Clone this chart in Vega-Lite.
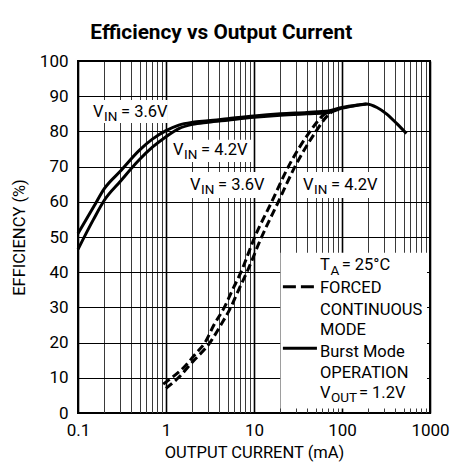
{
  "$schema": "https://vega.github.io/schema/vega-lite/v6.json",
  "width": 352,
  "height": 352,
  "autosize": "none",
  "padding": {"left": 78, "top": 61, "right": 21, "bottom": 52},
  "background": "white",
  "config": {
    "font": "Roboto",
    "view": {"stroke": "black", "strokeWidth": 2},
    "text": {"font": "Roboto", "color": "black"},
    "axis": {"labelOverlap": false, "labelFontSize": 17, "labelColor": "black", "labelSeparation": 0},
    "axisY": {"labelOverlap": false},
    "axisQuantitative": {"labelOverlap": false}
  },
  "title": {
    "text": "Efficiency vs Output Current",
    "fontSize": 20.8,
    "fontWeight": "bold",
    "font": "Roboto",
    "anchor": "middle",
    "frame": "bounds",
    "offset": 8,
    "dx": -9,
    "color": "black"
  },
  "datasets": {
    "burst": [
      {"vin": "3.6V", "x": 0.1, "y": 51},
      {"vin": "3.6V", "x": 0.15, "y": 58.5},
      {"vin": "3.6V", "x": 0.2, "y": 63.8},
      {"vin": "3.6V", "x": 0.3, "y": 68.6},
      {"vin": "3.6V", "x": 0.5, "y": 74.7},
      {"vin": "3.6V", "x": 0.7, "y": 77.8},
      {"vin": "3.6V", "x": 1.0, "y": 80.2},
      {"vin": "3.6V", "x": 1.4, "y": 81.8},
      {"vin": "3.6V", "x": 2, "y": 82.6},
      {"vin": "3.6V", "x": 3, "y": 83},
      {"vin": "3.6V", "x": 5, "y": 83.6},
      {"vin": "3.6V", "x": 10, "y": 84.4},
      {"vin": "3.6V", "x": 20, "y": 85},
      {"vin": "3.6V", "x": 40, "y": 85.4},
      {"vin": "3.6V", "x": 70, "y": 85.8},
      {"vin": "3.6V", "x": 100, "y": 86.8},
      {"vin": "3.6V", "x": 150, "y": 87.5},
      {"vin": "3.6V", "x": 190, "y": 87.8},
      {"vin": "3.6V", "x": 250, "y": 86.8},
      {"vin": "3.6V", "x": 320, "y": 85},
      {"vin": "3.6V", "x": 420, "y": 82.2},
      {"vin": "3.6V", "x": 540, "y": 79.4},
      {"vin": "4.2V", "x": 0.1, "y": 46.5},
      {"vin": "4.2V", "x": 0.15, "y": 55},
      {"vin": "4.2V", "x": 0.2, "y": 60.5},
      {"vin": "4.2V", "x": 0.3, "y": 65.7},
      {"vin": "4.2V", "x": 0.5, "y": 72},
      {"vin": "4.2V", "x": 0.7, "y": 75.5},
      {"vin": "4.2V", "x": 1.0, "y": 78.5},
      {"vin": "4.2V", "x": 1.4, "y": 80.8},
      {"vin": "4.2V", "x": 2, "y": 82},
      {"vin": "4.2V", "x": 3, "y": 82.6},
      {"vin": "4.2V", "x": 5, "y": 83.2},
      {"vin": "4.2V", "x": 10, "y": 84},
      {"vin": "4.2V", "x": 20, "y": 84.6},
      {"vin": "4.2V", "x": 40, "y": 85},
      {"vin": "4.2V", "x": 70, "y": 85.3},
      {"vin": "4.2V", "x": 100, "y": 86.6},
      {"vin": "4.2V", "x": 150, "y": 87.4},
      {"vin": "4.2V", "x": 190, "y": 87.8}
    ],
    "forced": [
      {"vin": "3.6V", "x": 0.93, "y": 8.2},
      {"vin": "3.6V", "x": 1.16, "y": 10},
      {"vin": "3.6V", "x": 1.6, "y": 13},
      {"vin": "3.6V", "x": 2.2, "y": 17},
      {"vin": "3.6V", "x": 2.77, "y": 20},
      {"vin": "3.6V", "x": 3.5, "y": 25},
      {"vin": "3.6V", "x": 4.6, "y": 30},
      {"vin": "3.6V", "x": 5.7, "y": 35},
      {"vin": "3.6V", "x": 7.1, "y": 40},
      {"vin": "3.6V", "x": 10.2, "y": 50},
      {"vin": "3.6V", "x": 15.9, "y": 60},
      {"vin": "3.6V", "x": 24.6, "y": 70},
      {"vin": "3.6V", "x": 43.4, "y": 80},
      {"vin": "3.6V", "x": 58.7, "y": 84.2},
      {"vin": "3.6V", "x": 68, "y": 85.6},
      {"vin": "4.2V", "x": 1.0, "y": 7},
      {"vin": "4.2V", "x": 1.38, "y": 10},
      {"vin": "4.2V", "x": 2.0, "y": 14.5},
      {"vin": "4.2V", "x": 3.16, "y": 20},
      {"vin": "4.2V", "x": 4.2, "y": 25},
      {"vin": "4.2V", "x": 5.44, "y": 30},
      {"vin": "4.2V", "x": 6.7, "y": 35},
      {"vin": "4.2V", "x": 8.3, "y": 40},
      {"vin": "4.2V", "x": 12.2, "y": 50},
      {"vin": "4.2V", "x": 18.9, "y": 60},
      {"vin": "4.2V", "x": 29.2, "y": 70},
      {"vin": "4.2V", "x": 50.6, "y": 80},
      {"vin": "4.2V", "x": 66.9, "y": 84.2},
      {"vin": "4.2V", "x": 76, "y": 85.4}
    ],
    "boxes": [
      {"x": 0.13, "x2": 1.05, "y": 82.4, "y2": 88.9},
      {"x": 1.05, "x2": 9.5, "y": 71.3, "y2": 77.6},
      {"x": 1.64, "x2": 15.2, "y": 61.1, "y2": 68.5},
      {"x": 31.6, "x2": 283, "y": 61.1, "y2": 68.5},
      {"x": 20, "x2": 925, "y": 1.3, "y2": 45.5}
    ],
    "samples": [
      {"mode": "forced", "x": 21.3, "x2": 51.9, "y": 35.9},
      {"mode": "burst", "x": 21.3, "x2": 51.9, "y": 18.4}
    ],
    "texts": [
      {"role": "main", "x": 0.148, "y": 84.1, "t": "V"},
      {"role": "sub", "x": 0.1974, "y": 84.1, "t": "IN"},
      {"role": "main", "x": 0.308, "y": 84.1, "t": "= 3.6V"},
      {"role": "main", "x": 1.2, "y": 73.3, "t": "V"},
      {"role": "sub", "x": 1.6, "y": 73.3, "t": "IN"},
      {"role": "main", "x": 2.5, "y": 73.3, "t": "= 4.2V"},
      {"role": "main", "x": 1.87, "y": 63.4, "t": "V"},
      {"role": "sub", "x": 2.5, "y": 63.4, "t": "IN"},
      {"role": "main", "x": 3.9, "y": 63.4, "t": "= 3.6V"},
      {"role": "main", "x": 36.0, "y": 63.4, "t": "V"},
      {"role": "sub", "x": 48.1, "y": 63.4, "t": "IN"},
      {"role": "main", "x": 75.0, "y": 63.4, "t": "= 4.2V"},
      {"role": "main", "x": 56.2, "y": 40.6, "t": "T"},
      {"role": "sub", "x": 74.0, "y": 40.6, "t": "A"},
      {"role": "main", "x": 99.1, "y": 40.6, "t": "= 25°C"},
      {"role": "main", "x": 56.2, "y": 34.1, "t": "FORCED"},
      {"role": "main", "x": 56.2, "y": 27.8, "t": "CONTINUOUS"},
      {"role": "main", "x": 56.2, "y": 22.2, "t": "MODE"},
      {"role": "main", "x": 56.2, "y": 15.9, "t": "Burst Mode"},
      {"role": "main", "x": 56.2, "y": 9.9, "t": "OPERATION"},
      {"role": "main", "x": 56.2, "y": 4.3, "t": "V"},
      {"role": "sub", "x": 74.8, "y": 4.3, "t": "OUT"},
      {"role": "main", "x": 155.6, "y": 4.3, "t": "= 1.2V"}
    ]
  },
  "encoding": {
    "x": {
      "field": "x", "type": "quantitative",
      "scale": {"type": "log", "domain": [0.1, 1000]},
      "axis": {
        "title": "OUTPUT CURRENT (mA)",
        "titleFontSize": 16.5,
        "titleFontWeight": "normal",
        "titleColor": "black",
        "titlePadding": 6,
        "values": [0.1,0.2,0.3,0.4,0.5,0.6,0.7,0.8,0.9,1,2,3,4,5,6,7,8,9,10,20,30,40,50,60,70,80,90,100,200,300,400,500,600,700,800,900,1000],
        "labelExpr": "datum.value == 0.1 ? '0.1' : datum.value == 1 ? '1' : datum.value == 10 ? '10' : datum.value == 100 ? '100' : datum.value == 1000 ? '1000' : ''",
        "labelFontSize": 17,
        "labelColor": "black",
        "labelPadding": 9,
        "labelFlush": false,
        "labelOverlap": false,
        "ticks": false,
        "domain": false,
        "grid": true,
        "gridColor": {"condition": {"test": "indexof([0.1,1,10,100,1000], datum.value) >= 0", "value": "black"}, "value": "#3a3a3a"},
        "gridWidth": {"condition": {"test": "indexof([0.1,1,10,100,1000], datum.value) >= 0", "value": 1.6}, "value": 1},
        "gridOpacity": 1
      }
    },
    "y": {
      "field": "y", "type": "quantitative",
      "scale": {"domain": [0, 100]},
      "axis": {
        "title": "EFFICIENCY (%)",
        "titleFontSize": 16.5,
        "titleFontWeight": "normal",
        "titleColor": "black",
        "titlePadding": 12,
        "values": [0,10,20,30,40,50,60,70,80,90,100],
        "labelExpr": "datum.value + ''",
        "labelFontSize": 17,
        "labelColor": "black",
        "labelPadding": 10,
        "labelOverlap": false,
        "labelSeparation": 0,
        "ticks": false,
        "domain": false,
        "grid": true,
        "gridColor": "black",
        "gridWidth": 1.2,
        "gridOpacity": 1
      }
    }
  },
  "layer": [
    {
      "data": {"name": "boxes"},
      "mark": {"type": "rect", "color": "white", "stroke": null},
      "encoding": {
        "x2": {"field": "x2"},
        "y2": {"field": "y2"}
      }
    },
    {
      "data": {"name": "burst"},
      "mark": {"type": "line", "color": "black", "strokeWidth": 3, "interpolate": "monotone"},
      "encoding": {"detail": {"field": "vin"}}
    },
    {
      "data": {"name": "forced"},
      "mark": {"type": "line", "color": "black", "strokeWidth": 3, "strokeDash": [8, 4], "interpolate": "monotone"},
      "encoding": {"detail": {"field": "vin"}}
    },
    {
      "data": {"name": "samples"},
      "transform": [{"filter": "datum.mode == 'forced'"}],
      "mark": {"type": "rule", "color": "black", "strokeWidth": 3, "strokeDash": [13, 5]},
      "encoding": {"x2": {"field": "x2"}}
    },
    {
      "data": {"name": "samples"},
      "transform": [{"filter": "datum.mode == 'burst'"}],
      "mark": {"type": "rule", "color": "black", "strokeWidth": 3},
      "encoding": {"x2": {"field": "x2"}}
    },
    {
      "data": {"name": "texts"},
      "transform": [{"filter": "datum.role == 'main'"}],
      "mark": {"type": "text", "align": "left", "baseline": "alphabetic", "fontSize": 16.5, "color": "black"},
      "encoding": {"text": {"field": "t"}}
    },
    {
      "data": {"name": "texts"},
      "transform": [{"filter": "datum.role == 'sub'"}],
      "mark": {"type": "text", "align": "left", "baseline": "alphabetic", "fontSize": 13.5, "dy": 4.5, "color": "black"},
      "encoding": {"text": {"field": "t"}}
    }
  ]
}
